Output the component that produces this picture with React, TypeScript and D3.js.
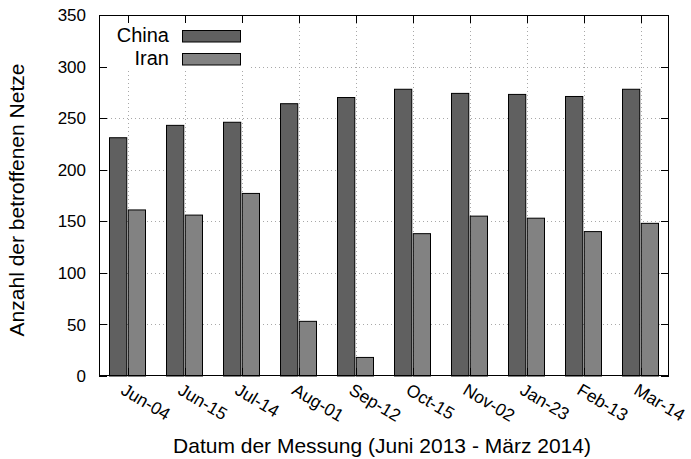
import React from "react";
import * as d3 from "d3";

const categories = ["Jun-04", "Jun-15", "Jul-14", "Aug-01", "Sep-12", "Oct-15", "Nov-02", "Jan-23", "Feb-13", "Mar-14"];
const chinaValues = [231, 243, 246, 264, 270, 278, 274, 273, 271, 278];
const iranValues = [161, 156, 177, 53, 18, 138, 155, 153, 140, 148];
const seriesNames = ["China", "Iran"];
const seriesColors = ["#606060", "#828282"];
const yTicks = [0, 50, 100, 150, 200, 250, 300, 350];

const W = 691;
const H = 459;
const left = 99;
const right = 669;
const top = 15;
const bottom = 376;
const FONT = "'Liberation Sans', Arial, Helvetica, sans-serif";

export default function App() {
  const x0 = d3.scaleBand<string>().domain(categories).range([left, right]).padding(0);
  const bw = x0.bandwidth();
  const x1 = d3.scaleBand<string>().domain(seriesNames).range([bw / 2 - 18, bw / 2 + 18]).paddingInner(0.08);
  const y = d3.scaleLinear().domain([0, 350]).range([bottom, top]);
  const values = [chinaValues, iranValues];
  const tickLen = 8;

  return (
    <svg width={W} height={H} style={{ position: "absolute", left: 0, top: 0, background: "#fff" }} fontFamily={FONT}>
      <rect x={0} y={0} width={W} height={H} fill="#fff" />
      {/* grid */}
      <g stroke="#a8a8a8" strokeWidth={1} strokeDasharray="1,3">
        {yTicks.filter((t) => t > 0 && t < 350).map((t) => (
          <line key={"gy" + t} x1={left} x2={right} y1={Math.round(y(t)) + 0.5} y2={Math.round(y(t)) + 0.5} />
        ))}
        {categories.map((c) => {
          const cx = Math.round((x0(c) as number) + bw / 2) + 0.5;
          return <line key={"gx" + c} x1={cx} x2={cx} y1={top} y2={bottom} />;
        })}
      </g>
      {/* legend background */}
      <rect x={left + 1} y={top + 1} width={150} height={54} fill="#fff" />
      {/* bars */}
      {categories.map((c, i) => (
        <g key={c} transform={`translate(${x0(c)},0)`}>
          {seriesNames.map((s, j) => (
            <rect
              key={s}
              x={(x1(s) as number)}
              y={y(values[j][i])}
              width={x1.bandwidth()}
              height={bottom - y(values[j][i])}
              fill={seriesColors[j]}
              stroke="#000"
              strokeWidth={1}
            />
          ))}
        </g>
      ))}
      {/* ticks */}
      <g stroke="#000" strokeWidth={1}>
        {yTicks.map((t) => {
          const yy = Math.round(y(t)) + 0.5;
          return (
            <g key={"ty" + t}>
              <line x1={left} x2={left + tickLen} y1={yy} y2={yy} />
              <line x1={right - tickLen} x2={right} y1={yy} y2={yy} />
            </g>
          );
        })}
        {categories.map((c) => {
          const cx = Math.round((x0(c) as number) + bw / 2) + 0.5;
          return (
            <g key={"tx" + c}>
              <line x1={cx} x2={cx} y1={top} y2={top + tickLen} />
              <line x1={cx} x2={cx} y1={bottom - tickLen} y2={bottom} />
            </g>
          );
        })}
      </g>
      {/* frame */}
      <rect x={left + 0.5} y={top + 0.5} width={right - left - 1} height={bottom - top - 1} fill="none" stroke="#000" strokeWidth={1} />
      {/* y tick labels */}
      {yTicks.map((t) => (
        <text key={"ly" + t} x={left - 13} y={y(t)} dy="0.36em" textAnchor="end" fontSize={17} fill="#000">
          {t}
        </text>
      ))}
      {/* x tick labels */}
      {categories.map((c) => {
        const cx = (x0(c) as number) + bw / 2;
        return (
          <text key={"lx" + c} transform={`translate(${cx - 1},${382}) rotate(31)`} dy="0.75em" textAnchor="start" fontSize={17.5} fill="#000">
            {c}
          </text>
        );
      })}
      {/* legend */}
      {seriesNames.map((s, j) => (
        <g key={"leg" + s}>
          <text x={169} y={42 + j * 23} textAnchor="end" fontSize={20} fill="#000">
            {s}
          </text>
          <rect x={182.5} y={30.5 + j * 23} width={58} height={11.5} fill={seriesColors[j]} stroke="#000" strokeWidth={1} />
        </g>
      ))}
      {/* axis titles */}
      <text x={382} y={453} textAnchor="middle" fontSize={21} fill="#000">
        Datum der Messung (Juni 2013 - März 2014)
      </text>
      <text transform={`translate(24,200) rotate(-90)`} textAnchor="middle" fontSize={21} fill="#000">
        Anzahl der betroffenen Netze
      </text>
    </svg>
  );
}
